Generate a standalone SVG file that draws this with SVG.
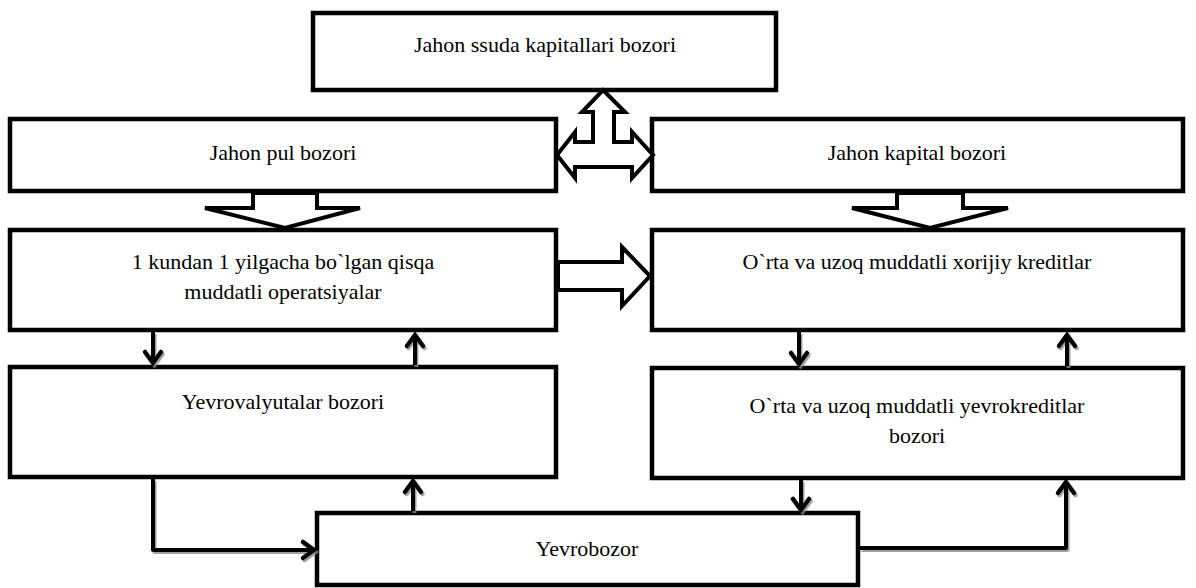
<svg xmlns="http://www.w3.org/2000/svg" width="1196" height="588" viewBox="0 0 1196 588">
<style>
.box{fill:#fff;stroke:#000;stroke-width:4.5}
.blk{fill:#fff;stroke:#000;stroke-width:4;stroke-linejoin:miter}
.ln{fill:none;stroke:#000;stroke-width:4;stroke-linejoin:round}
.hd{fill:none;stroke:#000;stroke-width:4.5;stroke-linecap:round;stroke-linejoin:miter}
text{font-family:"Liberation Serif","Times New Roman",serif;font-size:22px;fill:#000;text-anchor:middle}
</style>
<defs>
<filter id="sh" x="-20%" y="-20%" width="140%" height="140%">
<feDropShadow dx="1.5" dy="2" stdDeviation="0.6" flood-color="#888" flood-opacity="0.8"/>
</filter>
</defs>
<rect width="1196" height="588" fill="#fff"/>
<g id="n-ssuda"><rect class="box" x="313" y="13" width="463" height="77"/><text x="545" y="52">Jahon ssuda kapitallari bozori</text></g>
<g id="n-pul"><rect class="box" x="10" y="119" width="546" height="72"/><text x="283" y="160">Jahon pul bozori</text></g>
<g id="n-kapital"><rect class="box" x="652" y="119" width="531" height="72"/><text x="917" y="160">Jahon kapital bozori</text></g>
<g id="n-qisqa"><rect class="box" x="10" y="230" width="546" height="100"/><text x="283" y="269">1 kundan 1 yilgacha bo`lgan qisqa</text><text x="283" y="299">muddatli operatsiyalar</text></g>
<g id="n-xorijiy"><rect class="box" x="652" y="230" width="531" height="100"/><text x="917" y="269">O`rta va uzoq muddatli xorijiy kreditlar</text></g>
<g id="n-yevrovalyuta"><rect class="box" x="10" y="367" width="546" height="110"/><text x="283" y="409">Yevrovalyutalar bozori</text></g>
<g id="n-yevrokredit"><rect class="box" x="652" y="368" width="531" height="110"/><text x="917" y="413">O`rta va uzoq muddatli yevrokreditlar</text><text x="917" y="443">bozori</text></g>
<g id="n-yevrobozor"><rect class="box" x="317" y="513" width="541" height="72"/><text x="587" y="556">Yevrobozor</text></g>
<g id="connectors">
<polygon class="blk" points="603,90 625,112 614,112 614,142 632,142 632,132 653,155 632,178 632,167 575,167 575,178 557,155 575,132 575,142 593,142 593,112 582,112"/>
<polygon class="blk" points="253,193 317,193 317,208 360,208 285,228 205,208 253,208"/>
<polygon class="blk" points="897,193 963,193 963,208 1008,208 930,228 852,208 897,208"/>
<polygon class="blk" points="558,262 622,262 622,247 650,276 622,306 622,290 558,290"/>
<g filter="url(#sh)">
<line class="ln" x1="153" y1="332" x2="153" y2="364"/><polyline class="hd" points="145,352 153,363 161,352"/>
<line class="ln" x1="415" y1="365" x2="415" y2="334"/><polyline class="hd" points="407,346 415,335 423,346"/>
<line class="ln" x1="799" y1="332" x2="799" y2="365"/><polyline class="hd" points="791,353 799,364 807,353"/>
<line class="ln" x1="1067" y1="366" x2="1067" y2="334"/><polyline class="hd" points="1059,346 1067,335 1075,346"/>
<polyline class="ln" points="153,479 153,550 314,550"/><polyline class="hd" points="303,542 314,550 303,558"/>
<line class="ln" x1="413" y1="511" x2="413" y2="481"/><polyline class="hd" points="405,492 413,481 421,492"/>
<line class="ln" x1="801" y1="480" x2="801" y2="510"/><polyline class="hd" points="793,499 801,510 809,499"/>
<polyline class="ln" points="860,548 1066,548 1066,482"/><polyline class="hd" points="1058,493 1066,482 1074,493"/>
</g>
</g>
</svg>
